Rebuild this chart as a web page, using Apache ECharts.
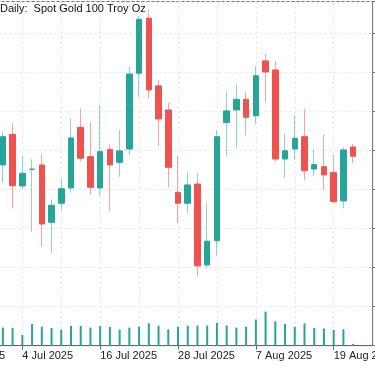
<!DOCTYPE html>
<html>
<head>
<meta charset="utf-8">
<style>
  html, body { margin: 0; padding: 0; background: #fff; }
  #chart { width: 375px; height: 366px; }
</style>
<script src="https://cdn.jsdelivr.net/npm/echarts@6/dist/echarts.min.js"></script>
</head>
<body>
<div id="chart"></div>
<script>
const titleText = 'Daily:  Spot Gold 100 Troy Oz';

const categories = [
  '24 Jun 2025','25 Jun 2025','26 Jun 2025','27 Jun 2025','30 Jun 2025','1 Jul 2025',
  '2 Jul 2025','3 Jul 2025','4 Jul 2025','7 Jul 2025','8 Jul 2025','9 Jul 2025','10 Jul 2025','11 Jul 2025',
  '14 Jul 2025','15 Jul 2025','16 Jul 2025','17 Jul 2025','18 Jul 2025','21 Jul 2025','22 Jul 2025',
  '23 Jul 2025','24 Jul 2025','25 Jul 2025','28 Jul 2025','29 Jul 2025','30 Jul 2025','31 Jul 2025',
  '1 Aug 2025','4 Aug 2025','5 Aug 2025','6 Aug 2025','7 Aug 2025','8 Aug 2025','11 Aug 2025',
  '12 Aug 2025','13 Aug 2025','14 Aug 2025','15 Aug 2025','18 Aug 2025','19 Aug 2025','20 Aug 2025',
  '21 Aug 2025','22 Aug 2025','25 Aug 2025'
];
// first category that carries data (2 Jul 2025)
const firstDataDate = '2 Jul 2025';

const opens = [3340.6, 3360.2, 3327.2, 3337.8, 3340.6, 3303.9, 3316.1, 3325.9, 3364.7, 3345.9,
  3325.9, 3350.6, 3342.3, 3350.8, 3399.3, 3434.5, 3391.2, 3375.8, 3323.1, 3316.1,
  3328.4, 3276.6, 3292.1, 3367.7, 3375.8, 3382.6, 3372.1, 3407.2, 3401.4, 3344.4,
  3350.8, 3358.7, 3338.0, 3339.5, 3335.7, 3317.6, 3352.1];
const closes = [3358.7, 3327.3, 3335.3, 3337.9, 3302.8, 3314.8, 3325.4, 3357.9, 3344.9, 3326.3,
  3349.1, 3340.6, 3349.6, 3398.8, 3433.8, 3388.6, 3370.0, 3339.1, 3316.1, 3327.8,
  3276.0, 3291.8, 3358.7, 3375.2, 3382.6, 3371.1, 3397.7, 3400.1, 3344.4, 3349.7,
  3357.7, 3336.9, 3340.8, 3334.2, 3317.1, 3350.2, 3346.2];
const lows = [3329.1, 3312.9, 3325.0, 3297.9, 3288.3, 3284.1, 3311.3, 3322.9, 3342.7, 3321.4,
  3320.9, 3310.7, 3333.1, 3347.0, 3384.3, 3382.8, 3352.8, 3326.3, 3303.3, 3309.7,
  3269.1, 3274.5, 3282.4, 3346.4, 3351.7, 3359.5, 3366.8, 3380.7, 3342.3, 3332.5,
  3343.8, 3331.0, 3333.6, 3324.6, 3316.1, 3312.9, 3341.7];
const highs = [3361.9, 3367.3, 3346.5, 3344.2, 3347.6, 3318.6, 3331.6, 3370.5, 3376.9, 3368.1,
  3379.0, 3353.8, 3363.0, 3403.5, 3436.0, 3440.2, 3395.0, 3380.5, 3346.5, 3335.9,
  3335.7, 3316.5, 3363.0, 3387.5, 3392.2, 3387.5, 3404.0, 3411.6, 3407.2, 3360.9,
  3372.6, 3376.4, 3350.6, 3359.8, 3347.0, 3351.9, 3354.0];
const volumes = [52.3, 51.5, 31.1, 63.1, 55.2, 51.5, 46.5, 57.3, 57.3, 52.3,
  57.3, 54.4, 46.5, 52.3, 55.2, 64.8, 58.1, 47.4, 54.4, 58.1,
  58.1, 58.1, 66.0, 58.1, 52.3, 55.2, 75.6, 98.8, 70.6, 63.1,
  54.4, 64.8, 51.5, 49.4, 45.6, 47.4, 4.9];

const priceMin = 3225, priceMax = 3445.2, priceStep = 25;
const volumeMax = 1000;

const UP = '#26a69a', DOWN = '#ef5350';
const UP_WICK = '#8fd3cb', DOWN_WICK = '#f7a3a1';

const start = categories.indexOf(firstDataDate);
const wickData = categories.map((c, i) => {
  const k = i - start;
  if (k < 0 || k >= opens.length) return ['-', '-', '-', '-'];
  return [opens[k], closes[k], lows[k], highs[k]];
});
const bodyData = categories.map((c, i) => {
  const k = i - start;
  if (k < 0 || k >= opens.length) return ['-', '-', '-', '-'];
  return [opens[k], closes[k], Math.min(opens[k], closes[k]), Math.max(opens[k], closes[k])];
});
const volData = categories.map((c, i) => {
  const k = i - start;
  return (k < 0 || k >= volumes.length) ? '-' : volumes[k];
});
const lastClose = closes[closes.length - 1];

const chart = echarts.init(document.getElementById('chart'), null, { renderer: 'canvas' });
chart.setOption({
  animation: false,
  backgroundColor: '#fff',
  textStyle: { fontFamily: 'Liberation Sans, Arial, sans-serif' },
  title: {
    text: titleText,
    left: 0, top: 3, padding: 0,
    textStyle: { fontSize: 11, fontWeight: 'normal', color: '#111', fontFamily: 'Liberation Sans, Arial, sans-serif' }
  },
  grid: {
    left: -55.5, right: 2.4, top: 1.5, bottom: 20.4,
    containLabel: false, outerBoundsMode: 'none',
    show: true, borderColor: '#777', borderWidth: 1, backgroundColor: 'transparent'
  },
  xAxis: {
    type: 'category',
    data: categories,
    boundaryGap: false,
    axisLine: { show: true, lineStyle: { color: '#666', width: 1 } },
    axisTick: { show: true, interval: 7, length: 4, lineStyle: { color: '#666' } },
    axisLabel: {
      interval: 7, align: 'left', margin: 5, fontSize: 11, color: '#222', hideOverlap: false
    },
    splitLine: { show: true, interval: 3, lineStyle: { color: '#e2e2e2', type: [2, 3], width: 1 } }
  },
  yAxis: [
    {
      type: 'value', position: 'right', scale: true,
      min: priceMin, max: priceMax, interval: priceStep,
      axisLine: { show: true, lineStyle: { color: '#777' } },
      axisTick: { show: true, length: 4, lineStyle: { color: '#777' } },
      axisLabel: { show: true, fontSize: 11, color: '#222' },
      splitLine: { show: true, lineStyle: { color: '#e2e2e2', type: [2, 3], width: 1 } }
    },
    {
      type: 'value', min: 0, max: volumeMax, show: false,
      splitLine: { show: false }
    }
  ],
  series: [
    {
      name: 'Volume', type: 'bar', yAxisIndex: 1, data: volData,
      barWidth: 2, itemStyle: { color: UP }, z: 2,
      markLine: {
        silent: true, symbol: 'none', z: 2,
        lineStyle: { color: '#4fb3a9', width: 1, type: 'solid' },
        label: {
          show: true, position: 'end', distance: 1,
          formatter: () => lastClose.toFixed(1),
          backgroundColor: UP, color: '#fff', fontSize: 11, padding: [2, 3]
        },
        data: [{ yAxis: lastClose }]
      }
    },
    {
      name: 'Wick', type: 'candlestick', data: wickData, barWidth: 1, z: 3,
      itemStyle: { color: UP_WICK, color0: DOWN_WICK, borderColor: UP_WICK, borderColor0: DOWN_WICK, borderWidth: 1 }
    },
    {
      name: 'Body', type: 'candlestick', data: bodyData, barWidth: 6, z: 4,
      itemStyle: { color: UP, color0: DOWN, borderColor: UP, borderColor0: DOWN, borderWidth: 1 }
    }
  ]
});
</script>
</body>
</html>
